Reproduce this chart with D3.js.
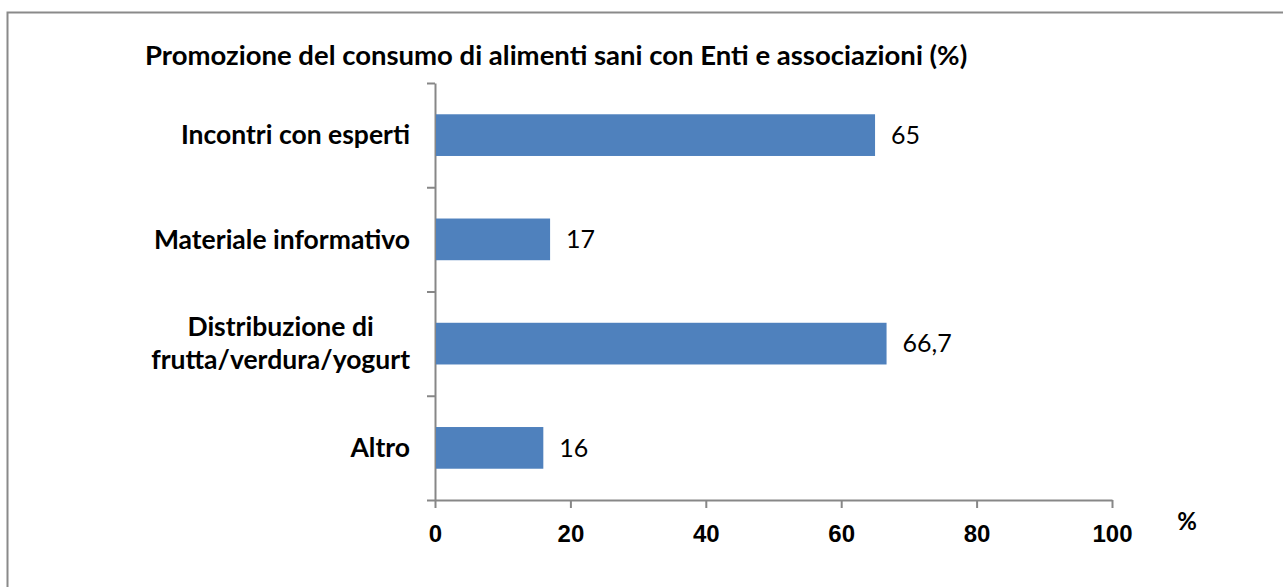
<!DOCTYPE html>
<html>
<head>
<meta charset="utf-8">
<script src="https://cdn.jsdelivr.net/npm/d3@7"></script>
<style>
    body { margin: 0; background: #fff; }
    svg { display: block; font-family: Lato, "Open Sans", sans-serif; }
    .axis path, .axis line { stroke: #878787; stroke-width: 2; }
    .x-axis text { font-weight: bold; font-size: 24px; fill: #000; }
</style>
</head>
<body>
<div id="chart"></div>
<script>

// data
let categories = ["Incontri con esperti", "Materiale informativo", "Distribuzione di\nfrutta/verdura/yogurt", "Altro"];
let values = [65, 17, 66.7, 16];
let valueLabels = ["65", "17", "66,7", "16"];
let xTicks = [0, 20, 40, 60, 80, 100];
let title = "Promozione del consumo di alimenti sani con Enti e associazioni (%)";

let width = 1283, height = 587;
let margin = {top: 83, left: 435, right: 170, bottom: 87};

let svg = d3.select("#chart")
    .append("svg")
    .attr("width", width)
    .attr("height", height);

// outer frame
svg.append("rect")
    .attr("x", 7.5)
    .attr("y", 12.5)
    .attr("width", width + 20)
    .attr("height", height + 20)
    .attr("fill", "none")
    .attr("stroke", "#8a8a8a")
    .attr("stroke-width", 2);

svg.append("text")
    .attr("x", 145)
    .attr("y", 65)
    .attr("font-weight", "bold")
    .attr("font-size", 27.5)
    .text(title);

let x = d3.scaleLinear()
    .domain([0, 100])
    .range([margin.left, width - margin.right - 1]);

let y = d3.scaleBand()
    .domain(categories)
    .range([margin.top, height - margin.bottom])
    .paddingInner(0.6)
    .paddingOuter(0.3);

// category boundaries for the tick marks
let yEdge = d3.scaleLinear()
    .domain([0, categories.length])
    .range([margin.top, height - margin.bottom]);

let xAxis = d3.axisBottom(x)
    .tickValues(xTicks)
    .tickSizeInner(8)
    .tickSizeOuter(0)
    .tickPadding(17);

svg.append("g")
    .attr("class", "x-axis axis")
    .attr("transform", "translate(0," + (height - margin.bottom) + ")")
    .call(xAxis);

let yAxis = d3.axisLeft(yEdge)
    .tickValues(d3.range(categories.length + 1))
    .tickFormat("")
    .tickSizeInner(8)
    .tickSizeOuter(0);

svg.append("g")
    .attr("class", "y-axis axis")
    .attr("transform", "translate(" + margin.left + ",0)")
    .call(yAxis);

// "%" unit label
svg.append("text")
    .attr("x", 1187)
    .attr("y", 530)
    .attr("text-anchor", "middle")
    .attr("font-weight", "bold")
    .attr("font-size", 24)
    .text("%");

// bars
svg.selectAll("rect.bar")
    .data(values)
    .enter().append("rect")
    .attr("class", "bar")
    .attr("fill", "#4f81bd")
    .attr("x", x(0) + 1)
    .attr("y", (d, i) => y(categories[i]))
    .attr("width", d => x(d) - x(0) - 1)
    .attr("height", y.bandwidth());

// value labels
svg.selectAll("text.value")
    .data(values)
    .enter().append("text")
    .attr("class", "value")
    .attr("x", d => x(d) + 16)
    .attr("y", (d, i) => y(categories[i]) + y.bandwidth() / 2)
    .attr("dy", "0.35em")
    .attr("font-size", 25)
    .text((d, i) => valueLabels[i]);

// category labels (multi-line ones are centred on their widest line)
let labelRight = 410;
categories.forEach((c, i) => {
    let lines = c.split("\n");
    let cy = y(c) + y.bandwidth() / 2;
    let lh = 33;
    let g = svg.append("text")
        .attr("font-weight", "bold")
        .attr("font-size", 26.5);
    lines.forEach((l, j) => {
        g.append("tspan")
            .attr("y", cy + (j - (lines.length - 1) / 2) * lh)
            .attr("dy", "0.35em")
            .text(l);
    });
    if (lines.length === 1) {
        g.attr("text-anchor", "end").selectAll("tspan").attr("x", labelRight);
    } else {
        let w = d3.max(g.selectAll("tspan").nodes(), n => n.getComputedTextLength());
        g.attr("text-anchor", "middle").selectAll("tspan").attr("x", labelRight - w / 2);
    }
});

</script>
</body>
</html>
